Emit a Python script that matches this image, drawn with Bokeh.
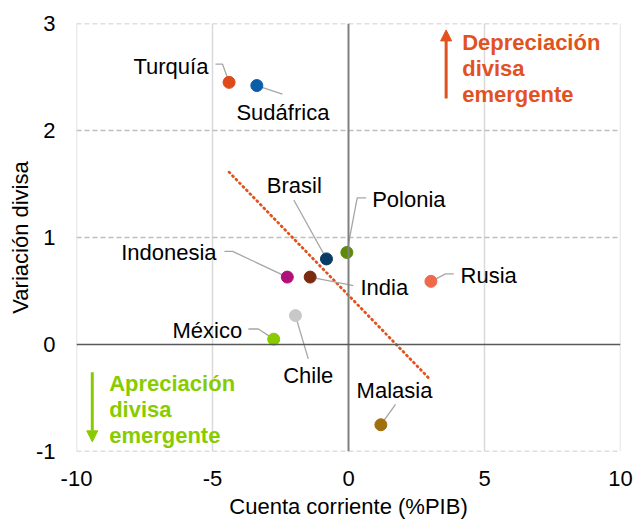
import numpy as np
from bokeh.plotting import figure
from bokeh.models import (ColumnDataSource, FixedTicker, Span, Label, Arrow,
                          NormalHead, CustomJSTickFormatter)
from bokeh.embed import file_html
from bokeh.resources import INLINE

# ---------------- data ----------------
paises = ["Turquía", "Sudáfrica", "Brasil", "Polonia", "Indonesia",
          "India", "Chile", "México", "Rusia", "Malasia"]
cuenta_corriente = [-4.39, -3.37, -0.81, -0.06, -2.25, -1.41, -1.95, -2.75, 3.03, 1.19]
variacion_divisa = [2.45, 2.42, 0.80, 0.86, 0.63, 0.63, 0.27, 0.05, 0.59, -0.75]
x_ticks = [-10, -5, 0, 5, 10]
y_ticks = [-1, 0, 1, 2, 3]

# ---------------- styles ----------------
colores = ["#E04A1A", "#0A5EA8", "#0A3A66", "#5E8A0A", "#B0107A",
           "#7A2A10", "#C8C8C8", "#88CC00", "#EE6A4A", "#A0700A"]
FONT = "Liberation Sans"
FS = "22px"
NARANJA = "#E2521F"
VERDE = "#88CC00"

# label placement: (text x, text y, align) and leader path (elbow points, data units)
etiquetas = {
    "Turquía":   (-5.15, 2.60, "right",  [(-4.89, 2.62), (-4.63, 2.62)]),
    "Sudáfrica": (-4.12, 2.17, "left",   [(-2.43, 2.34)]),
    "Brasil":    (-1.99, 1.49, "center", [(-2.01, 1.35)]),
    "Polonia":   (0.87, 1.355, "left",   [(0.65, 1.37), (0.32, 1.37)]),
    "Indonesia": (-4.85, 0.86, "right",  [(-4.56, 0.87), (-4.26, 0.87)]),
    "India":     (0.44, 0.535, "left",   [(0.18, 0.55)]),
    "Chile":     (-1.48, -0.29, "center", [(-1.48, -0.134)]),
    "México":    (-3.91, 0.13, "right",  [(-3.68, 0.145), (-3.31, 0.145)]),
    "Rusia":     (4.12, 0.645, "left",   [(3.87, 0.66), (3.57, 0.66)]),
    "Malasia":   (1.69, -0.43, "center", [(1.73, -0.56)]),
}

p = figure(width=635, height=523, x_range=(-10, 10), y_range=(-1, 3),
           output_backend="svg", toolbar_location=None,
           min_border_left=76, min_border_right=15, min_border_top=23,
           min_border_bottom=72)
p.outline_line_color = None
p.background_fill_color = "white"
p.border_fill_color = "white"

# grids
p.xgrid.ticker = FixedTicker(ticks=[t for t in x_ticks if t != 0])
p.xgrid.grid_line_color = "#D9D9D9"
p.xgrid.grid_line_width = 1.5
p.ygrid.ticker = FixedTicker(ticks=[t for t in y_ticks if t != 0])
p.ygrid.grid_line_color = "#BFBFBF"
p.ygrid.grid_line_width = 1.3
p.ygrid.grid_line_dash = "5 3"

# frame-edge grid lines
for t in (x_ticks[0], x_ticks[-1]):
    p.add_layout(Span(location=t, dimension="height", line_color="#D9D9D9", line_width=1.5))
for t in (y_ticks[0], y_ticks[-1]):
    p.add_layout(Span(location=t, dimension="width", line_color="#BFBFBF",
                      line_width=1.3, line_dash="5 3"))

p.add_layout(Span(location=0, dimension="height", line_color="#808080", line_width=2))
p.add_layout(Span(location=0, dimension="width", line_color="#595959", line_width=1.5))

# axes
fmt = CustomJSTickFormatter(code="return tick.toString();")
for ax in (p.xaxis[0], p.yaxis[0]):
    ax.formatter = fmt
    ax.axis_line_color = None
    ax.major_tick_line_color = None
    ax.minor_tick_line_color = None
    ax.major_tick_out = 0
    ax.major_tick_in = 0
    ax.major_label_text_font = FONT
    ax.major_label_text_font_size = FS
    ax.major_label_text_color = "#000000"
    ax.axis_label_text_font = FONT
    ax.axis_label_text_font_size = FS
    ax.axis_label_text_font_style = "normal"
    ax.axis_label_text_color = "#000000"

p.xaxis.ticker = FixedTicker(ticks=x_ticks)
p.yaxis.ticker = FixedTicker(ticks=y_ticks)
p.xaxis.axis_label = "Cuenta corriente (%PIB)"
p.yaxis.axis_label = "Variación divisa"
p.xaxis.major_label_standoff = 19
p.xaxis.axis_label_standoff = 5
p.yaxis.major_label_standoff = 21
p.yaxis.axis_label_standoff = 0

# trend line (least squares over the data)
xa = np.array(cuenta_corriente)
ya = np.array(variacion_divisa)
m, b = np.polyfit(xa, ya, 1)
xt = np.array([xa.min(), xa.max() - 0.1])
p.line(xt, m * xt + b, line_color=NARANJA, line_width=2.8, line_dash="1 4",
       line_cap="round")

# leader lines
for pais, xv, yv in zip(paises, cuenta_corriente, variacion_divisa):
    tx, ty, al, path = etiquetas[pais]
    xs = [xv] + [q[0] for q in path][::-1]
    ys = [yv] + [q[1] for q in path][::-1]
    p.line(xs, ys, line_color="#A6A6A6", line_width=1.3)

# points
src = ColumnDataSource(dict(x=cuenta_corriente, y=variacion_divisa, c=colores, n=paises))
p.scatter("x", "y", source=src, size=12, fill_color="c", line_color="c")

# country labels
for pais in paises:
    tx, ty, al, path = etiquetas[pais]
    p.add_layout(Label(x=tx, y=ty, text=pais, text_align=al, text_baseline="middle",
                       text_font=FONT, text_font_size=FS, text_color="#000000"))

# annotations
for i, t in enumerate(["Depreciación", "divisa", "emergente"]):
    p.add_layout(Label(x=4.18, y=2.82 - i * 0.24, text=t, text_align="left",
                       text_baseline="middle", text_font=FONT, text_font_size=FS,
                       text_font_style="bold", text_color=NARANJA))
for i, t in enumerate(["Apreciación", "divisa", "emergente"]):
    p.add_layout(Label(x=-8.8, y=-0.368 - i * 0.241, text=t, text_align="left",
                       text_baseline="middle", text_font=FONT, text_font_size=FS,
                       text_font_style="bold", text_color=VERDE))

p.add_layout(Arrow(x_start=3.59, y_start=2.30, x_end=3.59, y_end=2.94,
                   line_color=NARANJA, line_width=3,
                   end=NormalHead(size=11, fill_color=NARANJA, line_color=NARANJA)))
p.add_layout(Arrow(x_start=-9.42, y_start=-0.26, x_end=-9.42, y_end=-0.91,
                   line_color=VERDE, line_width=3,
                   end=NormalHead(size=11, fill_color=VERDE, line_color=VERDE)))

open("out.html", "w").write(file_html(p, INLINE))
